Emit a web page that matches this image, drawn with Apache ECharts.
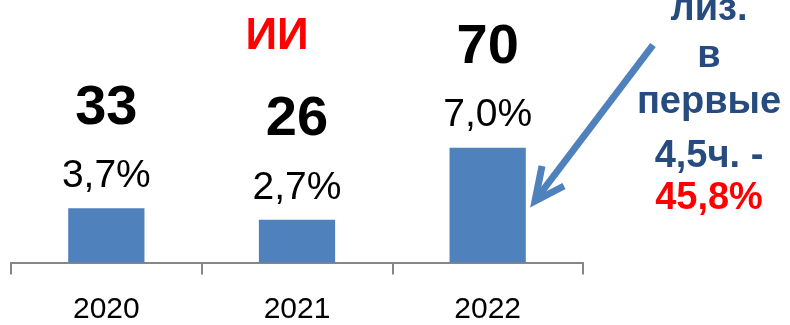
<!DOCTYPE html>
<html>
<head>
<meta charset="utf-8">
<style>
  html, body { margin: 0; padding: 0; background: #ffffff; }
  #chart { width: 790px; height: 325px; }
</style>
<script src="https://cdn.jsdelivr.net/npm/echarts@6/dist/echarts.min.js"></script>
</head>
<body>
<div id="chart"></div>
<script>
// Yearly counts and their share
const years = ['2020', '2021', '2022'];
const counts = [33, 26, 70];
const shares = [3.7, 2.7, 7.0];

// Callout text on the right
const noteLines = ['лиз.', 'в', 'первые', '4,5ч. -'];
const noteHighlight = '45,8%';
const headingTail = 'ИИ';

const FONT = '"Liberation Sans", Arial, sans-serif';
const BAR = '#4F81BD';
const NOTE_BLUE = '#264B7E';
const RED = '#FF0000';

function fmtShare(v) {
  return v.toFixed(1).replace('.', ',') + '%';
}

const chart = echarts.init(document.getElementById('chart'), null, { renderer: 'canvas' });

// Callout layout: text baselines, one per line
const noteX = 709;
const noteBaselines = [21, 68, 114, 168, 210];
const noteSize = 38;
const noteDescent = Math.round(noteSize * 0.21);
const graphics = [];
noteLines.concat([noteHighlight]).forEach(function (t, i) {
  const isLast = i === noteLines.length;
  graphics.push({
    type: 'text',
    x: noteX,
    y: noteBaselines[i] + noteDescent,
    style: {
      text: t,
      font: 'bold ' + noteSize + 'px ' + FONT,
      fill: isLast ? RED : NOTE_BLUE,
      align: 'center',
      verticalAlign: 'bottom'
    }
  });
});
graphics.push({
  type: 'text',
  x: 277,
  y: 37,
  style: {
    text: headingTail,
    font: 'bold 44px ' + FONT,
    fill: RED,
    align: 'center',
    verticalAlign: 'middle'
  }
});
// Pointer arrow from the callout toward the 2022 bar
graphics.push({
  type: 'line',
  shape: { x1: 653, y1: 45, x2: 537, y2: 198 },
  style: { stroke: BAR, lineWidth: 7, lineCap: 'butt' }
});
graphics.push({
  type: 'polyline',
  shape: { points: [[542, 166], [535, 201], [564, 186]] },
  style: { stroke: BAR, lineWidth: 7, fill: null, lineJoin: 'miter', lineCap: 'butt' }
});

chart.setOption({
  animation: false,
  grid: { left: 11, right: 207, top: 0, bottom: 62.5, containLabel: false },
  xAxis: {
    type: 'category',
    data: years,
    boundaryGap: true,
    axisLine: { show: true, lineStyle: { color: '#868686', width: 2 } },
    axisTick: { show: true, alignWithLabel: false, length: 12, lineStyle: { color: '#868686', width: 2 } },
    axisLabel: { color: '#000000', fontFamily: FONT, fontSize: 30, margin: 32 }
  },
  yAxis: {
    type: 'value',
    min: 0,
    max: 160,
    show: false,
    splitLine: { show: false }
  },
  series: [{
    type: 'bar',
    data: counts,
    barWidth: '40%',
    itemStyle: { color: BAR },
    label: {
      show: true,
      position: 'top',
      distance: 7,
      formatter: function (p) {
        return '{n|' + p.value + '}\n{p|' + fmtShare(shares[p.dataIndex]) + '}';
      },
      rich: {
        n: { fontFamily: FONT, fontSize: 56, fontWeight: 'bold', color: '#000000', lineHeight: 86, align: 'center' },
        p: { fontFamily: FONT, fontSize: 39, color: '#000000', lineHeight: 50, align: 'center' }
      }
    }
  }],
  graphic: graphics
});
</script>
</body>
</html>
